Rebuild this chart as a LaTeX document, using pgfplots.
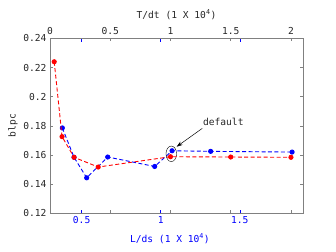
\documentclass[border=0pt]{standalone}
\usepackage{fontspec}
\setmainfont{DejaVu Sans Mono}
\usepackage{pgfplots}
\pgfplotsset{compat=1.18}
\usetikzlibrary{arrows.meta}
\definecolor{axgray}{RGB}{128,128,128}
\definecolor{txt}{RGB}{38,38,38}
\begin{document}
\begin{tikzpicture}[x=1bp,y=1bp,font=\fontsize{9.6bp}{11bp}\selectfont]
\useasboundingbox (-50,-39) rectangle (286,213);
\pgfplotsset{
  common/.style={
    at={(0,0)}, anchor=south west, scale only axis,
    width=253bp, height=174.5bp,
    ymin=0.12, ymax=0.24,
    axis line style={axgray},
    tick align=inside, major tick length=3bp,
    /pgf/number format/assume math mode=true,
    /pgf/number format/fixed,
    /pgf/number format/precision=2,
    tick label style={font=\fontsize{9.6bp}{11bp}\selectfont, text=txt},
    label style={font=\fontsize{9.6bp}{11bp}\selectfont},
    every axis plot/.append style={dashed, line width=0.9pt, dash pattern=on 4pt off 2.5pt, mark=*, mark size=2.1pt, mark options={solid}},
  }
}
% bottom axis (L/ds), blue series
\begin{axis}[common,
  xmin=0.3, xmax=1.9,
  xtick={0.5,1,1.5}, xticklabels={0.5,1,1.5},
  xtick style={blue, line width=0.5pt},
  xticklabel style={text=blue},
  ytick={0.12,0.14,0.16,0.18,0.2,0.22,0.24},
  yticklabels={0.12,0.14,0.16,0.18,0.2,0.22,0.24},
  ytick style={axgray, line width=0.5pt},
  xlabel={\textcolor{blue}{L/ds (1 X 10\textsuperscript{4})}},
  xlabel style={at={(axis description cs:0.474,-0.146)}, anchor=center},
  ylabel={blpc}, ylabel style={at={(axis description cs:-0.146,0.5)}, anchor=center, text=txt},
]
\addplot[blue] coordinates {
 (0.378,0.1785) (0.452,0.1583) (0.532,0.1442) (0.665,0.1585)
 (0.962,0.1520) (1.072,0.1628) (1.316,0.1624) (1.831,0.1619)};
\draw[black, line width=0.4pt] (axis cs:1.067,0.1607) ellipse [x radius=5.3bp, y radius=7.8bp];
\draw[black, line width=0.5pt, -{Stealth[length=6bp,width=4bp]}] (axis cs:1.263,0.1782) -- (axis cs:1.101,0.1656);
\node[text=txt, font=\fontsize{9.6bp}{11bp}\selectfont] at (axis cs:1.396,0.1828) {default};
\end{axis}
% top axis (T/dt), red series
\begin{axis}[common,
  xmin=0, xmax=2.1,
  xtick={0,0.5,1,1.5,2}, xticklabels={0,0.5,1,1.5,2},
  xticklabel pos=right,
  xtick style={axgray, line width=0.5pt},
  ytick=\empty,
  xlabel={T/dt (1 X 10\textsuperscript{4})},
  xlabel style={at={(axis description cs:0.5,1.135)}, anchor=center, text=txt},
]
\addplot[red] coordinates {
 (0.035,0.224) (0.1,0.1725) (0.2,0.1583) (0.4,0.1516)
 (1.0,0.1587) (1.5,0.1585) (2.0,0.1583)};
\end{axis}
\end{tikzpicture}
\end{document}
